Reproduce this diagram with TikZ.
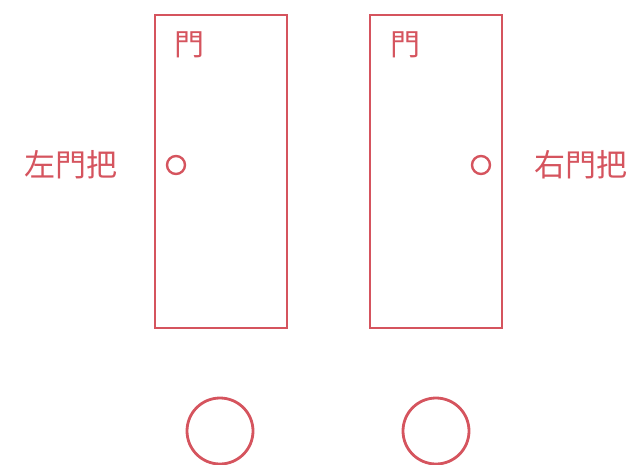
\documentclass[tikz,border=0pt]{standalone}
\usepackage{fontspec}
\setmainfont{Noto Sans CJK TC}
\definecolor{dred}{RGB}{213,84,94}
\begin{document}
\begin{tikzpicture}[x=1pt,y=-1pt,
  door/.style={draw=dred,line width=2.5pt},
  knob/.style={draw=dred,line width=2.4pt,circle,minimum size=18pt,inner sep=0pt},
  foot/.style={draw=dred,line width=2.8pt,circle,minimum size=66pt,inner sep=0pt},
  lbl/.style={text=dred,font=\fontsize{31}{34}\selectfont,inner sep=0pt},
  tlbl/.style={text=dred,font=\fontsize{30}{32}\selectfont,inner sep=0pt}]
\useasboundingbox (0,0) rectangle (634,464);
\node[door,minimum width=132pt,minimum height=313pt,inner sep=0pt] (dl) at (221,171.5) {};
\node[door,minimum width=132pt,minimum height=313pt,inner sep=0pt] (dr) at (436,171.5) {};
\node[knob] (kl) at (176,165) {};
\node[knob] (kr) at (481,165) {};
\node[tlbl] (tl) at (189.5,45) {門};
\node[tlbl] (tr) at (405.5,45) {門};
\node[lbl] (ll) at (71,164.5) {左門把};
\node[lbl] (lr) at (581,164.5) {右門把};
\node[foot] (fl) at (220,431) {};
\node[foot] (fr) at (436,431) {};
\end{tikzpicture}
\end{document}
